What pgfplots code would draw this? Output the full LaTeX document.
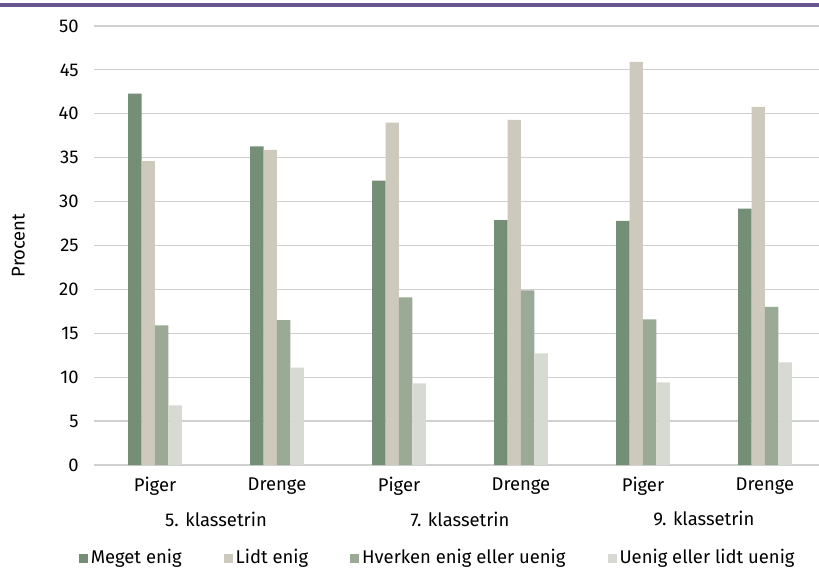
\documentclass[border=0pt]{standalone}
\usepackage{fontspec}
\setmainfont{Fira Sans}
\usepackage{pgfplots}
\pgfplotsset{compat=1.18}
\definecolor{cMeget}{HTML}{758F76}
\definecolor{cLidt}{HTML}{CDC9BD}
\definecolor{cHverken}{HTML}{9AAA95}
\definecolor{cUenig}{HTML}{D7DAD3}
\definecolor{cGrid}{HTML}{D0D0D0}
\definecolor{cPurple}{HTML}{6A5590}
\begin{document}
\fontsize{18.5}{21}\selectfont
\begin{tikzpicture}
\begin{axis}[
  at={(94bp,106bp)}, anchor=south west,
  scale only axis,
  width=725bp, height=439bp,
  ybar=0pt, bar width=13.4bp,
  xmin=-0.5, xmax=5.443,
  ymin=0, ymax=50,
  ytick={0,5,...,50},
  xtick={0,1,2,3,4,5},
  xticklabels={Piger,Drenge,Piger,Drenge,Piger,Drenge},
  major tick length=0pt,
  ymajorgrids, grid style={cGrid, line width=1.2bp},
  axis x line*=bottom, axis y line*=left,
  y axis line style={draw=none},
  x axis line style={cGrid, line width=1.2bp, -},
  /pgf/number format/assume math mode=true,
  ticklabel style={font=\fontsize{18.5}{21}\selectfont},
  yticklabel style={anchor=east, xshift=-9bp},
  xticklabel style={yshift=-6bp},
  ylabel={Procent}, ylabel style={font=\fontsize{17}{19}\selectfont},
  every axis y label/.style={at={(-75.5bp,0.5)}, rotate=90, anchor=center},
  clip=false,
  legend columns=4,
  legend style={at={(0.474,-0.211)}, anchor=center, draw=none, fill=none,
    font=\fontsize{18.5}{21}\selectfont, column sep=1bp, inner sep=0pt,
    /tikz/every even column/.append style={column sep=40bp}},
  legend image code/.code={\fill (0bp,-5bp) rectangle (9bp,4bp);},
  every axis plot/.append style={draw=none},
]
\addplot[fill=cMeget] coordinates {(0,42.3) (1,36.3) (2,32.4) (3,27.9) (4,27.8) (5,29.2)};
\addplot[fill=cLidt] coordinates {(0,34.6) (1,35.9) (2,39.0) (3,39.3) (4,45.9) (5,40.8)};
\addplot[fill=cHverken] coordinates {(0,15.9) (1,16.5) (2,19.1) (3,19.9) (4,16.6) (5,18.0)};
\addplot[fill=cUenig] coordinates {(0,6.8) (1,11.1) (2,9.3) (3,12.7) (4,9.4) (5,11.7)};
\legend{Meget enig, Lidt enig, Hverken enig eller uenig, Uenig eller lidt uenig}
\node[anchor=center] at ([yshift=-54bp]axis cs:0.5,0) {5. klassetrin};
\node[anchor=center] at ([yshift=-54bp]axis cs:2.5,0) {7. klassetrin};
\node[anchor=center] at ([yshift=-54bp]axis cs:4.5,0) {9. klassetrin};
\end{axis}
\fill[cPurple] (0bp,564bp) rectangle (819bp,567.5bp);
\pgfresetboundingbox
\path[use as bounding box] (0bp,0bp) rectangle (819bp,571bp);
\end{tikzpicture}
\end{document}
